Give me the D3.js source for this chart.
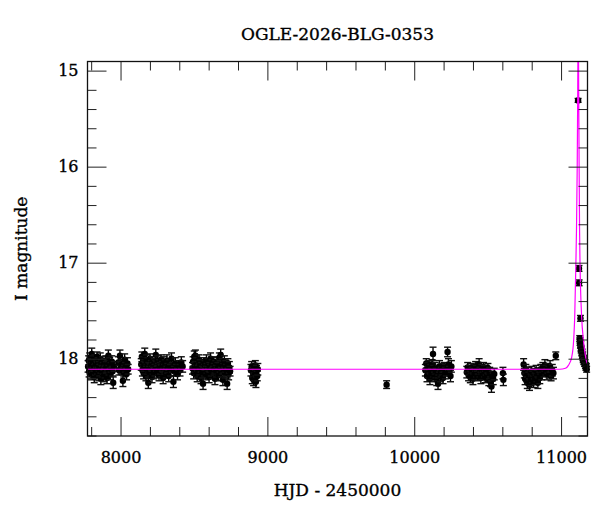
<!DOCTYPE html>
<html>
<head>
<meta charset="utf-8">
<script src="https://cdn.jsdelivr.net/npm/d3@7"></script>
<style>
  body { margin: 0; background: #fff; }
  svg text { font-family: "DejaVu Serif", serif; fill: #000; stroke: #000; stroke-width: 0.35px; }
</style>
</head>
<body>
<svg id="chart" width="600" height="512"></svg>
<script>
// photometry: [HJD-2450000, I mag, error]
var season1 = [[7779,18.08,.06],[7783,18.02,.05],[7786,18.13,.06],[7790,17.99,.05],[7793,18.10,.06],[7797,18.05,.05],[7800,18.16,.06],[7804,17.95,.06],[7807,18.09,.05],[7811,18.03,.06],[7814,18.14,.05],[7818,18.07,.06],[7821,18.19,.06],[7825,18.01,.05],[7829,18.11,.06],[7832,18.06,.05],[7836,18.15,.06],[7840,17.98,.05],[7843,18.10,.06],[7847,18.04,.05],[7851,18.17,.06],[7855,18.08,.05],[7858,18.12,.06],[7862,18.00,.06],[7866,18.21,.06],[7870,18.06,.05],[7874,18.13,.06],[7878,18.03,.05],[7882,18.10,.06],[7886,18.18,.06],[7890,18.05,.05],[7895,18.14,.06],[7899,18.02,.05],[7903,18.09,.06],[7908,18.20,.06],[7912,18.07,.05],[7917,17.97,.06],[7921,18.12,.05],[7926,18.05,.06],[7931,18.16,.06],[7936,18.09,.05],[7941,18.03,.06],[7946,18.13,.05],[7950,18.25,.06],[7956,18.08,.05],[7985,18.04,.06],[7990,18.12,.05],[7996,17.97,.06],[8003,18.10,.06],[8009,18.06,.05],[8016,18.23,.06],[8022,18.14,.05],[8028,18.01,.06],[8034,18.09,.05],[8041,18.16,.06],[8047,18.05,.06],[8052,18.11,.05]];
var season2 = [[8141,18.06,.06],[8145,17.98,.05],[8149,18.12,.06],[8153,18.03,.05],[8157,18.15,.06],[8161,18.08,.05],[8165,17.95,.06],[8169,18.10,.06],[8173,18.18,.05],[8177,18.02,.06],[8181,18.11,.05],[8185,18.05,.06],[8189,18.25,.06],[8193,18.09,.05],[8197,18.14,.06],[8201,18.00,.05],[8205,18.12,.06],[8210,18.07,.05],[8214,18.19,.06],[8218,18.03,.05],[8222,18.10,.06],[8226,18.15,.06],[8231,18.05,.05],[8235,18.12,.06],[8240,17.96,.06],[8244,18.08,.05],[8249,18.14,.06],[8253,18.02,.05],[8258,18.11,.06],[8262,18.17,.06],[8267,18.06,.05],[8271,18.10,.06],[8276,18.01,.05],[8280,18.13,.06],[8285,18.08,.05],[8290,18.20,.06],[8295,18.04,.06],[8300,18.11,.05],[8305,18.07,.06],[8311,18.15,.05],[8316,18.02,.06],[8322,18.10,.05],[8328,18.18,.06],[8334,18.06,.05],[8340,18.12,.06],[8347,18.00,.06],[8353,18.09,.05],[8360,18.24,.06],[8366,18.13,.05],[8373,18.05,.06],[8380,18.11,.05],[8388,18.16,.06],[8396,18.07,.05],[8405,18.12,.06],[8414,18.04,.06],[8423,18.08,.06]];
var season3 = [[8490,18.10,.06],[8494,18.03,.05],[8498,18.15,.06],[8502,17.98,.06],[8506,18.09,.05],[8510,17.97,.06],[8514,18.12,.05],[8518,18.05,.06],[8522,18.18,.06],[8526,18.08,.05],[8530,18.13,.06],[8535,18.01,.05],[8539,18.11,.06],[8543,18.06,.05],[8548,18.20,.06],[8552,18.09,.05],[8557,18.14,.06],[8562,18.26,.06],[8566,18.04,.05],[8571,18.12,.06],[8575,18.07,.05],[8580,18.16,.06],[8585,18.02,.06],[8589,18.10,.05],[8594,18.14,.06],[8599,18.05,.05],[8603,18.19,.06],[8608,18.09,.05],[8613,18.00,.06],[8618,18.12,.06],[8623,18.06,.05],[8628,18.15,.06],[8633,18.03,.05],[8638,18.11,.06],[8643,18.21,.06],[8648,18.07,.05],[8653,18.13,.06],[8658,18.04,.05],[8663,18.10,.06],[8668,18.17,.06],[8673,17.99,.05],[8678,18.08,.06],[8682,17.96,.06],[8687,18.14,.05],[8692,18.06,.06],[8697,18.22,.06],[8702,18.10,.05],[8707,18.03,.06],[8712,18.15,.05],[8717,18.08,.06],[8722,18.12,.06],[8726,18.26,.06],[8731,18.05,.05],[8736,18.16,.06],[8741,18.09,.06],[8746,18.13,.05]];
var season4 = [[8888,18.12,.06],[8893,18.08,.05],[8897,18.20,.06],[8902,18.14,.05],[8906,18.22,.06],[8910,18.10,.05],[8914,18.17,.06],[8918,18.07,.05],[8922,18.24,.06],[8926,18.13,.06],[8931,18.18,.05],[8935,18.11,.06],[9812,18.27,.04]];
var season5 = [[10076,18.12,.06],[10082,18.05,.05],[10087,18.18,.06],[10092,18.09,.05],[10097,18.14,.06],[10102,18.07,.05],[10107,18.21,.06],[10112,18.11,.05],[10117,18.16,.06],[10122,18.06,.05],[10128,17.95,.07],[10133,18.13,.06],[10138,18.19,.05],[10143,18.10,.06],[10148,18.15,.05],[10153,18.22,.06],[10158,18.17,.06],[10162,18.26,.06],[10167,18.12,.05],[10172,18.08,.06],[10178,18.18,.06],[10184,18.14,.05],[10190,18.11,.06],[10196,18.20,.06],[10205,18.09,.05],[10212,18.15,.06],[10219,18.12,.06],[10227,17.93,.05],[10233,18.06,.06],[10240,18.13,.05],[10247,18.18,.06],[10253,18.08,.06]];
var season6 = [[10358,18.14,.06],[10364,18.09,.05],[10370,18.17,.06],[10376,18.12,.05],[10382,18.19,.06],[10388,18.10,.05],[10394,18.15,.06],[10400,18.21,.06],[10406,18.11,.05],[10412,18.16,.06],[10418,18.08,.05],[10424,18.13,.06],[10430,18.18,.05],[10436,18.10,.06],[10442,18.06,.06],[10448,18.14,.05],[10454,18.20,.06],[10460,18.11,.05],[10466,18.16,.06],[10472,18.09,.05],[10478,18.13,.06],[10484,18.19,.06],[10490,18.12,.05],[10496,18.17,.06],[10502,18.10,.05],[10508,18.22,.06],[10514,18.15,.06],[10520,18.24,.05],[10526,18.29,.06],[10532,18.18,.05],[10538,18.21,.06],[10545,18.16,.06],[10604,18.15,.06],[10607,18.22,.06]];
var season7 = [[10745,18.06,.06],[10750,18.15,.05],[10755,18.21,.06],[10760,18.11,.05],[10765,18.18,.06],[10770,18.25,.06],[10775,18.14,.05],[10780,18.20,.06],[10785,18.27,.06],[10790,18.17,.05],[10795,18.22,.06],[10800,18.13,.05],[10806,18.19,.06],[10812,18.24,.06],[10818,18.16,.05],[10824,18.21,.06],[10830,18.12,.05],[10836,18.18,.06],[10842,18.25,.06],[10848,18.15,.05],[10855,18.20,.06],[10862,18.11,.05],[10869,18.16,.06],[10876,18.09,.05],[10883,18.13,.06],[10890,18.07,.06],[10897,18.12,.05],[10904,18.16,.06],[10911,18.10,.05],[10918,18.14,.06],[10925,18.08,.06],[10932,18.18,.05],[10940,18.12,.06],[10948,18.15,.06],[10964,17.97,.04]];
var season8 = [[11116,15.31,.02],[11122,17.06,.03],[11123,17.21,.03],[11132,17.58,.03],[11127,17.79,.03],[11129,17.83,.03],[11130,17.81,.03],[11132,17.86,.03],[11134,17.85,.03],[11135,17.89,.03],[11137,17.91,.03],[11139,17.90,.03],[11141,17.94,.03],[11143,17.93,.03],[11145,17.97,.03],[11147,17.96,.03],[11149,17.99,.03],[11151,18.01,.03],[11153,18.00,.03],[11155,18.03,.03],[11158,18.02,.03],[11160,18.05,.03],[11163,18.04,.03],[11166,18.07,.03],[11169,18.09,.03],[11172,18.08,.03],[11174,18.11,.03]];

// model light curve
var modelCurve = [[7700,18.11],[10990,18.11],[11030,18.10],[11050,18.07],[11073,17.98],[11086,17.80],[11093,17.56],[11101,17.00],[11105,16.66],[11110,16.00],[11113.5,15.20],[11117,14.30],[11120,15.20],[11123,16.00],[11126,16.66],[11129,17.00],[11140,17.56],[11152,17.80],[11167,17.98],[11180,18.05],[11250,18.10]];

var majorX = [8000, 9000, 10000, 11000];
var minorX = d3.range(7800, 11200, 200).filter(function(v) { return v % 1000 !== 0; });
var majorY = [15, 16, 17, 18];
var minorY = d3.range(15.2, 18.8, 0.2).filter(function(v) { return Math.abs(v - Math.round(v)) > 0.01; });

var titleText = "OGLE-2026-BLG-0353";
var xTitle = "HJD - 2450000";
var yTitle = "I magnitude";

(function() {
  var svg = d3.select("#chart");
  var pLeft = 87.5, pRight = 587.5, pTop = 61.5, pBottom = 436;
  var x = d3.scaleLinear().domain([7775, 11180]).range([pLeft, pRight]);
  var y = d3.scaleLinear().domain([14.905, 18.805]).range([pTop, pBottom]);

  var allPoints = [].concat(season1, season2, season3, season4, season5, season6, season7, season8);

  svg.append("defs").append("clipPath").attr("id", "plotclip")
    .append("rect").attr("x", pLeft).attr("y", pTop).attr("width", pRight - pLeft).attr("height", pBottom - pTop);

  // error bars + points
  var eb = svg.append("g").selectAll("g.pt").data(allPoints).enter().append("g").attr("class", "pt");
  eb.append("line")
    .attr("x1", function(d) { return x(d[0]); })
    .attr("x2", function(d) { return x(d[0]); })
    .attr("y1", function(d) { return y(d[1] - d[2]); })
    .attr("y2", function(d) { return y(d[1] + d[2]); })
    .attr("stroke", "#000").attr("stroke-width", 1.4);
  [-1, 1].forEach(function(s) {
    eb.append("line")
      .attr("x1", function(d) { return x(d[0]) - 3.5; })
      .attr("x2", function(d) { return x(d[0]) + 3.5; })
      .attr("y1", function(d) { return y(d[1] + s * d[2]); })
      .attr("y2", function(d) { return y(d[1] + s * d[2]); })
      .attr("stroke", "#111").attr("stroke-width", 1.4);
  });
  eb.append("circle")
    .attr("cx", function(d) { return x(d[0]); })
    .attr("cy", function(d) { return y(d[1]); })
    .attr("r", 3.2)
    .attr("fill", "#000");

  // model
  var line = d3.line()
    .x(function(d) { return x(d[0]); })
    .y(function(d) { return y(d[1]); })
    .curve(d3.curveMonotoneX);
  svg.append("path")
    .datum(modelCurve)
    .attr("clip-path", "url(#plotclip)")
    .attr("d", line)
    .attr("fill", "none")
    .attr("stroke", "#ff00ff")
    .attr("stroke-width", 1.2);

  // axes, ticks point inward
  function styleAxis(g) {
    g.select(".domain").remove();
    g.selectAll(".tick line").attr("stroke", "#222").attr("stroke-width", 1);
    g.selectAll("text").style("font-family", "'DejaVu Serif', serif").style("font-size", "16px").attr("fill", "#000");
  }
  svg.append("g").attr("transform", "translate(0," + pBottom + ")")
    .call(d3.axisBottom(x).tickValues(majorX).tickSize(-19).tickPadding(16).tickFormat(d3.format("d")))
    .call(styleAxis);
  svg.append("g").attr("transform", "translate(0," + pBottom + ")")
    .call(d3.axisBottom(x).tickValues(minorX).tickSize(-9).tickFormat(""))
    .call(styleAxis);
  svg.append("g").attr("transform", "translate(0," + pTop + ")")
    .call(d3.axisTop(x).tickValues(majorX).tickSize(-19).tickFormat(""))
    .call(styleAxis);
  svg.append("g").attr("transform", "translate(0," + pTop + ")")
    .call(d3.axisTop(x).tickValues(minorX).tickSize(-9).tickFormat(""))
    .call(styleAxis);
  svg.append("g").attr("transform", "translate(" + pLeft + ",0)")
    .call(d3.axisLeft(y).tickValues(majorY).tickSize(-19).tickPadding(9).tickFormat(d3.format("d")))
    .call(styleAxis);
  svg.append("g").attr("transform", "translate(" + pLeft + ",0)")
    .call(d3.axisLeft(y).tickValues(minorY).tickSize(-9).tickFormat(""))
    .call(styleAxis);
  svg.append("g").attr("transform", "translate(" + pRight + ",0)")
    .call(d3.axisRight(y).tickValues(majorY).tickSize(-19).tickFormat(""))
    .call(styleAxis);
  svg.append("g").attr("transform", "translate(" + pRight + ",0)")
    .call(d3.axisRight(y).tickValues(minorY).tickSize(-9).tickFormat(""))
    .call(styleAxis);

  svg.append("rect")
    .attr("x", pLeft).attr("y", pTop).attr("width", pRight - pLeft).attr("height", pBottom - pTop)
    .attr("fill", "none").attr("stroke", "#111").attr("stroke-width", 1.3);

  svg.append("text").attr("x", (pLeft + pRight) / 2).attr("y", 40)
    .attr("text-anchor", "middle").style("font-size", "17px").text(titleText);
  svg.append("text").attr("x", (pLeft + pRight) / 2).attr("y", 496)
    .attr("text-anchor", "middle").style("font-size", "17px").text(xTitle);
  svg.append("text").attr("transform", "translate(27," + ((pTop + pBottom) / 2) + ") rotate(-90)")
    .attr("text-anchor", "middle").style("font-size", "17px").text(yTitle);
})();
</script>
</body>
</html>
